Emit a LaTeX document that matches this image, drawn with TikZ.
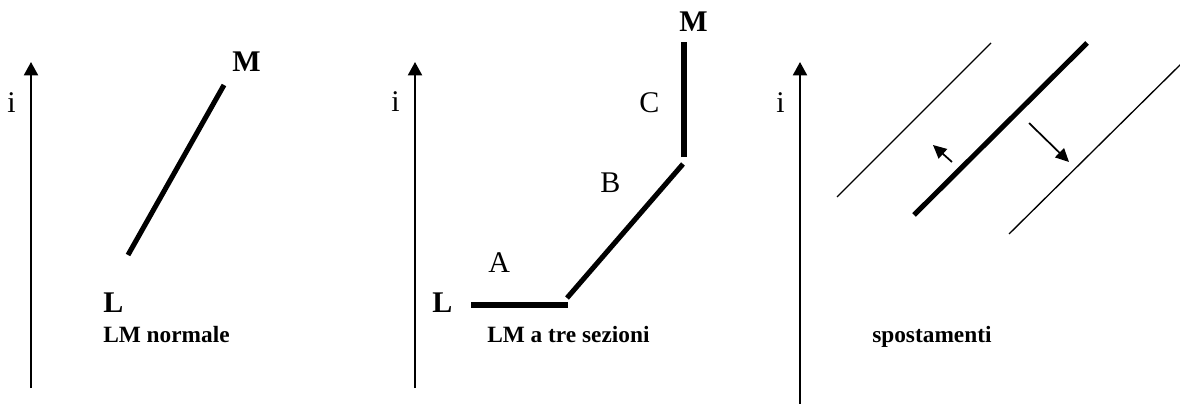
\documentclass[tikz,border=0pt]{standalone}
\usepackage{fontspec}
\setmainfont{Liberation Serif}
\usetikzlibrary{arrows.meta}
\tikzset{
  axisline/.style={line width=1.5pt,-{Triangle[width=10.5pt,length=10pt]}},
  thickseg/.style={line width=3.8pt},
  thinseg/.style={line width=1pt},
  shiftarrow/.style={line width=1.3pt,-{Triangle[width=9.5pt,length=10pt]}},
  big/.style={inner sep=0pt,anchor=base west,font=\fontsize{22.5}{24}\selectfont\bfseries},
  bigreg/.style={inner sep=0pt,anchor=base west,font=\fontsize{22.5}{24}\selectfont},
  caption/.style={inner sep=0pt,anchor=base west,font=\fontsize{17.5}{20}\selectfont\bfseries},
}
\begin{document}
\begin{tikzpicture}[x=0.75pt,y=-0.75pt]
\useasboundingbox (0,0) rectangle (1180,403);
\begin{scope}
\clip (0,0) rectangle (1180,403);
% Panel 1
\coordinate (a1b) at (31,388);
\coordinate (a1t) at (31,62);
\draw[axisline] (a1b) -- (a1t);
\node[bigreg] (i1) at (7,112) {i};
\coordinate (L1) at (128,255);
\coordinate (M1) at (224,85);
\draw[thickseg] (L1) -- (M1);
\node[big] (Mlab1) at (232,72) {M};
\node[big] (Llab1) at (103,312) {L};
\node[caption] (cap1) at (103,342) {LM normale};
% Panel 2
\coordinate (a2b) at (415,388);
\coordinate (a2t) at (415,62);
\draw[axisline] (a2b) -- (a2t);
\node[bigreg] (i2) at (391,111) {i};
\coordinate (A1) at (471,305);
\coordinate (A2) at (568,305);
\coordinate (B1) at (567,298);
\coordinate (B2) at (683,164);
\coordinate (C1) at (684,157);
\coordinate (C2) at (684,42);
\draw[thickseg] (A1) -- (A2);
\draw[thickseg] (B1) -- (B2);
\draw[thickseg] (C1) -- (C2);
\node[big] (Llab2) at (432,312) {L};
\node[big] (Mlab2) at (679,32) {M};
\node[bigreg] (Alab) at (488,272) {A};
\node[bigreg] (Blab) at (600,192) {B};
\node[bigreg] (Clab) at (639,113) {C};
\node[caption] (cap2) at (487,342) {LM a tre sezioni};
% Panel 3
\coordinate (a3b) at (800,410);
\coordinate (a3t) at (800,62);
\draw[axisline] (a3b) -- (a3t);
\node[bigreg] (i3) at (776,112) {i};
\coordinate (T1a) at (837,197);
\coordinate (T1b) at (991,43);
\draw[thinseg] (T1a) -- (T1b);
\coordinate (K1) at (914,215);
\coordinate (K2) at (1087,43);
\draw[thickseg] (K1) -- (K2);
\coordinate (T2a) at (1009,234);
\coordinate (T2b) at (1182,63);
\draw[thinseg] (T2a) -- (T2b);
\coordinate (s1) at (952,162);
\coordinate (s1t) at (933,145);
\draw[shiftarrow] (s1) -- (s1t);
\coordinate (s2) at (1029,123);
\coordinate (s2t) at (1069,162);
\draw[shiftarrow] (s2) -- (s2t);
\node[caption] (cap3) at (872,342) {spostamenti};
\end{scope}
\end{tikzpicture}
\end{document}
